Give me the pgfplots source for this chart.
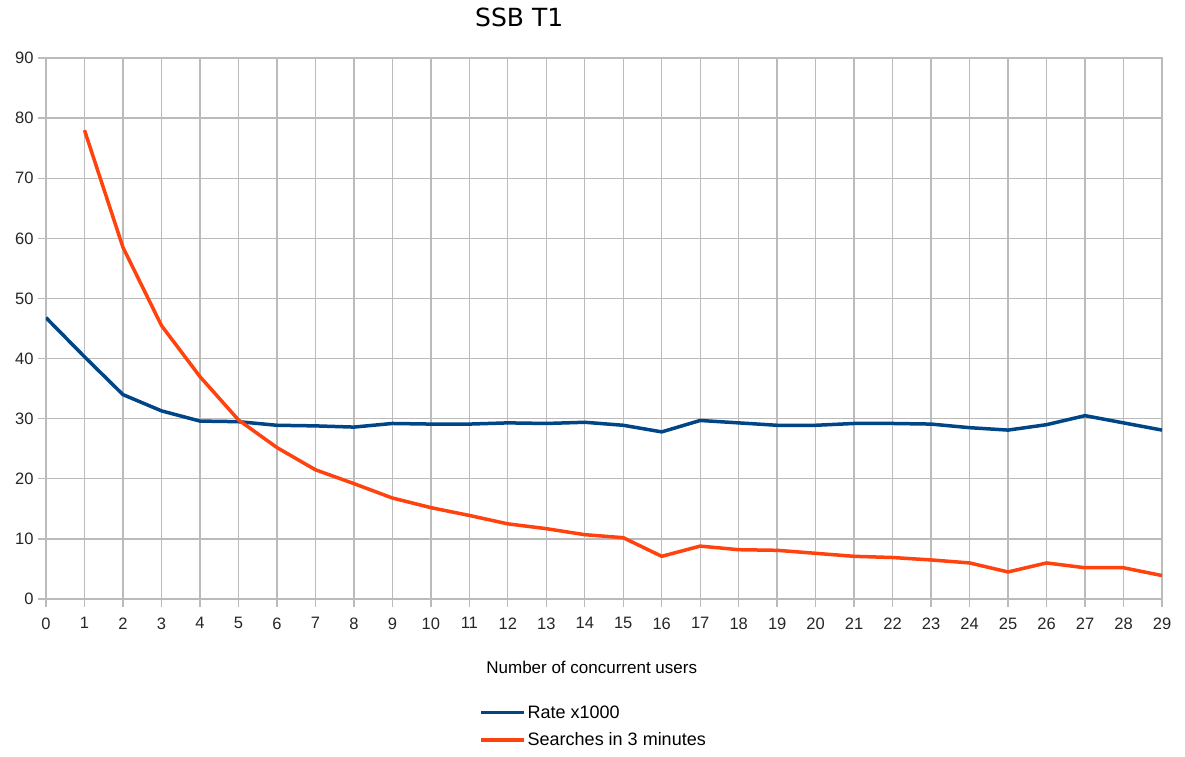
\documentclass[border=0pt]{standalone}
\usepackage{pgfplots}
\pgfplotsset{compat=1.18}
\usepackage{fontspec}
\setmainfont{Liberation Sans}
\newfontfamily\titlefont{DejaVu Sans}
\definecolor{cblue}{HTML}{004586}
\definecolor{corange}{HTML}{FF420E}
\definecolor{cgrid}{HTML}{BBBBBB}
\begin{document}
\begin{tikzpicture}
\begin{axis}[
  name=ax,
  scale only axis,
  width=1116pt, height=541pt,
  xmin=0, xmax=29, ymin=0, ymax=90,
  xtick={0,1,...,29}, ytick={0,10,...,90},
  grid=major,
  major grid style={draw=cgrid, line width=1.4pt},
  axis line style={draw=cgrid, line width=1.4pt},
  tick style={draw=cgrid, line width=1.4pt},
  tick align=outside, tick pos=left,
  major tick length=8pt,
  /pgf/number format/assume math mode=true,
  ticklabel style={font=\fontsize{16.5}{19}\selectfont, text=black!85},
  xticklabel style={yshift=-7pt},
  yticklabel style={xshift=-1pt},
  title={\titlefont\fontsize{25}{30}\selectfont SSB T1},
  title style={at={(axis description cs:0.424,1)}, anchor=center, yshift=35pt},
  xlabel={Number of concurrent users},
  xlabel style={at={(axis description cs:0.489,0)}, anchor=center, yshift=-68pt, font=\fontsize{17}{20}\selectfont},
  legend style={at={(axis description cs:0.4906,-0.2357)}, anchor=center, draw=none, fill=none,
    font=\fontsize{18}{21}\selectfont, row sep=9pt, inner sep=0pt},
  legend cell align=left,
  legend image code/.code={\draw[#1] (0pt,0pt) -- (43pt,0pt);},
]
\addplot[cblue, line width=3.5pt, line join=round] coordinates {
(0,46.8) (1,40.3) (2,34.0) (3,31.3) (4,29.6) (5,29.5) (6,28.9) (7,28.8) (8,28.6) (9,29.2)
(10,29.1) (11,29.1) (12,29.3) (13,29.2) (14,29.4) (15,28.9) (16,27.8) (17,29.7) (18,29.3) (19,28.9)
(20,28.9) (21,29.2) (22,29.2) (23,29.1) (24,28.5) (25,28.1) (26,29.0) (27,30.5) (28,29.3) (29,28.1)
};
\addlegendentry{Rate x1000}
\addplot[corange, line width=3.5pt, line join=round] coordinates {
(1,78.0) (2,58.5) (3,45.5) (4,37.0) (5,29.8) (6,25.2) (7,21.5) (8,19.2) (9,16.8)
(10,15.2) (11,13.9) (12,12.5) (13,11.7) (14,10.7) (15,10.2) (16,7.1) (17,8.8) (18,8.2) (19,8.1)
(20,7.6) (21,7.1) (22,6.9) (23,6.5) (24,6.0) (25,4.5) (26,6.0) (27,5.2) (28,5.2) (29,3.9)
};
\addlegendentry{Searches in 3 minutes}
\end{axis}
\pgfresetboundingbox
\path[use as bounding box] ([xshift=-46pt,yshift=-158pt]ax.south west) rectangle ([xshift=23pt,yshift=58pt]ax.north east);
\end{tikzpicture}
\end{document}
